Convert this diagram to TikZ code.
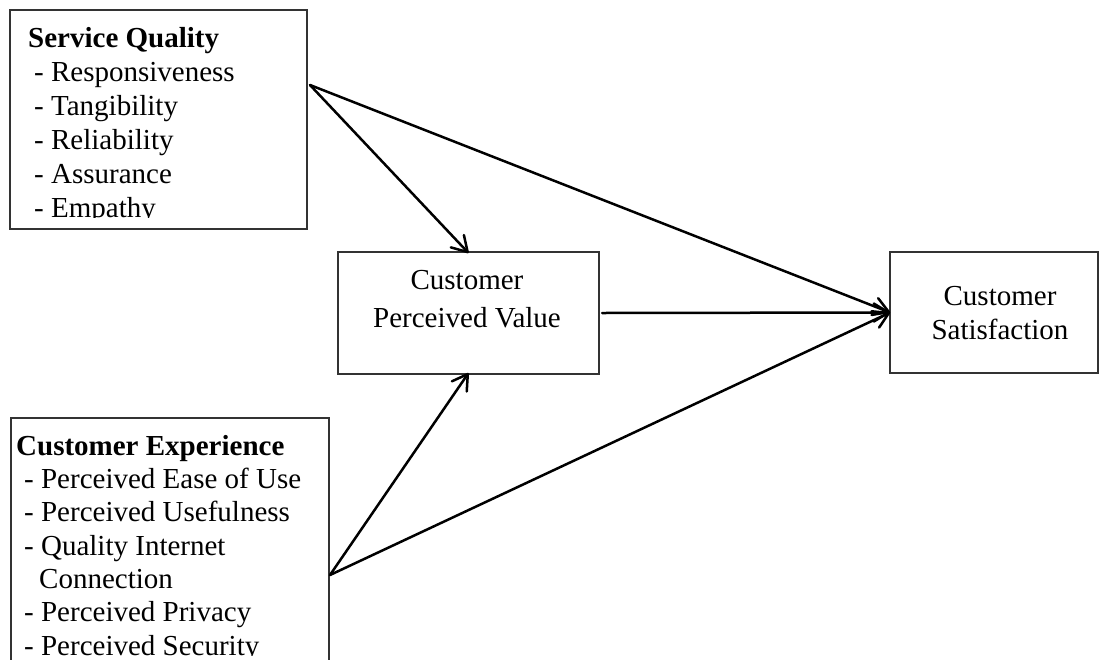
\documentclass[tikz,border=0pt]{standalone}
\usepackage{fontspec}
\setmainfont{Liberation Serif}
\usetikzlibrary{arrows.meta}
\begin{document}
\begin{tikzpicture}[x=1pt,y=-1pt,
  box/.style={draw=black!80, line width=1.4pt, rectangle, inner sep=0pt, outer sep=0pt},
  txt/.style={anchor=base west, inner sep=0pt, font=\fontsize{29}{34}\selectfont},
  btxt/.style={anchor=base west, inner sep=0pt, font=\fontsize{29}{34}\selectfont\bfseries},
  ctxt/.style={anchor=base, inner sep=0pt, font=\fontsize{29}{34}\selectfont},
  conn/.style={line width=2.5pt, line cap=round, line join=round,
    -{Straight Barb[length=15pt,width=18pt,round]}}
]
\useasboundingbox (0,0) rectangle (1099,659);

% boxes
\node[box, minimum width=297pt, minimum height=219pt] (sq) at (158.5,119.5) {};
\node[box, minimum width=318pt, minimum height=262pt] (ce) at (170,549) {};
\node[box, minimum width=261pt, minimum height=122pt] (cpv) at (468.5,313) {};
\node[box, minimum width=208pt, minimum height=121pt] (cs) at (994,312.5) {};

% Service Quality text
\begin{scope}
\clip (11,11) rectangle (306,217.5);
\node[btxt] (sq0) at (28,47) {Service Quality};
\node[txt] (sq1) at (34,81) {- Responsiveness};
\node[txt] (sq2) at (34,115) {- Tangibility};
\node[txt] (sq3) at (34,149) {- Reliability};
\node[txt] (sq4) at (34,183) {- Assurance};
\node[txt] (sq5) at (34,217) {- Empathy};
\end{scope}

% Customer Experience text
\begin{scope}
\clip (12,419) rectangle (328,655.5);
\node[btxt] (ce0) at (16,455) {Customer Experience};
\node[txt] (ce1) at (24,488) {- Perceived Ease of Use};
\node[txt] (ce2) at (24,521.5) {- Perceived Usefulness};
\node[txt] (ce3) at (24,555) {- Quality Internet};
\node[txt] (ce4) at (39,588) {Connection};
\node[txt] (ce5) at (24,621) {- Perceived Privacy};
\node[txt] (ce6) at (24,655) {- Perceived Security};
\end{scope}

% center texts
\node[ctxt] (cpv1) at (467,289) {Customer};
\node[ctxt] (cpv2) at (467,327) {Perceived Value};
\node[ctxt] (cs1) at (1000,305) {Customer};
\node[ctxt] (cs2) at (1000,339) {Satisfaction};

% connectors
\coordinate (sqout) at (310,85);
\coordinate (ceout) at (330,575);
\draw[conn] (sqout) -- ([yshift=-1pt]cpv.north);
\draw[conn] (sqout) -- (cs.west);
\draw[conn] ([xshift=3pt]cpv.east) -- (cs.west);
\draw[conn] (ceout) -- ([yshift=1pt]cpv.south);
\draw[conn] (ceout) -- (cs.west);
\end{tikzpicture}
\end{document}
